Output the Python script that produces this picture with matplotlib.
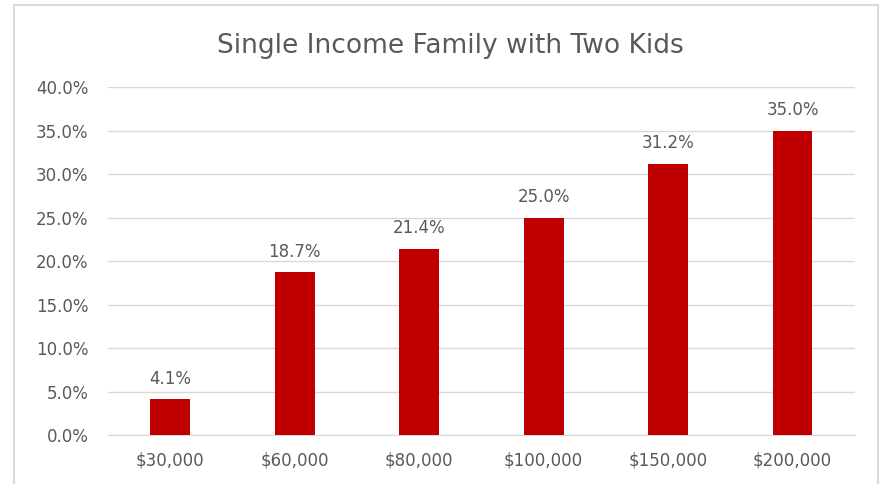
import matplotlib.pyplot as plt
from matplotlib.patches import Rectangle

# Datos del gráfico
categories = ['$30,000', '$60,000', '$80,000', '$100,000', '$150,000', '$200,000']
values = [4.1, 18.7, 21.4, 25.0, 31.2, 35.0]
yticks = [0, 5, 10, 15, 20, 25, 30, 35, 40]

plt.rcParams['font.family'] = ['DejaVu Sans']
text_color = '#595959'

fig = plt.figure(figsize=(8.84, 4.84), dpi=100)
ax = fig.add_axes([0.122, 0.101, 0.845, 0.719])

# Marco del gráfico
fig.patches.append(Rectangle((14 / 884, -0.01), 864 / 884, 1 - 5 / 484 + 0.01,
                             transform=fig.transFigure, fill=False,
                             edgecolor='#d9d9d9', linewidth=1.5))

x = range(len(categories))
ax.bar(x, values, width=0.32, color='#c00000', zorder=3)
for i, v in zip(x, values):
    ax.text(i, v + 2.4, f'{v:.1f}%', ha='center', va='center',
            fontsize=12, color=text_color)

ax.set_xlim(-0.5, len(categories) - 0.5)
ax.set_ylim(0, 40)
ax.set_yticks(yticks)
ax.set_yticklabels([f'{t:.1f}%' for t in yticks])
ax.set_xticks(list(x))
ax.set_xticklabels(categories)
ax.tick_params(axis='both', length=0, labelsize=12, colors=text_color)
ax.tick_params(axis='y', pad=14)
ax.tick_params(axis='x', pad=12)
ax.grid(axis='y', color='#d9d9d9', linewidth=1, zorder=0)
for s in ['top', 'right', 'left']:
    ax.spines[s].set_visible(False)
ax.spines['bottom'].set_color('#d9d9d9')

fig.text(0.509, 0.905, 'Single Income Family with Two Kids', ha='center',
         va='center', fontsize=19, color=text_color)

fig.savefig('out.png', dpi=100)
